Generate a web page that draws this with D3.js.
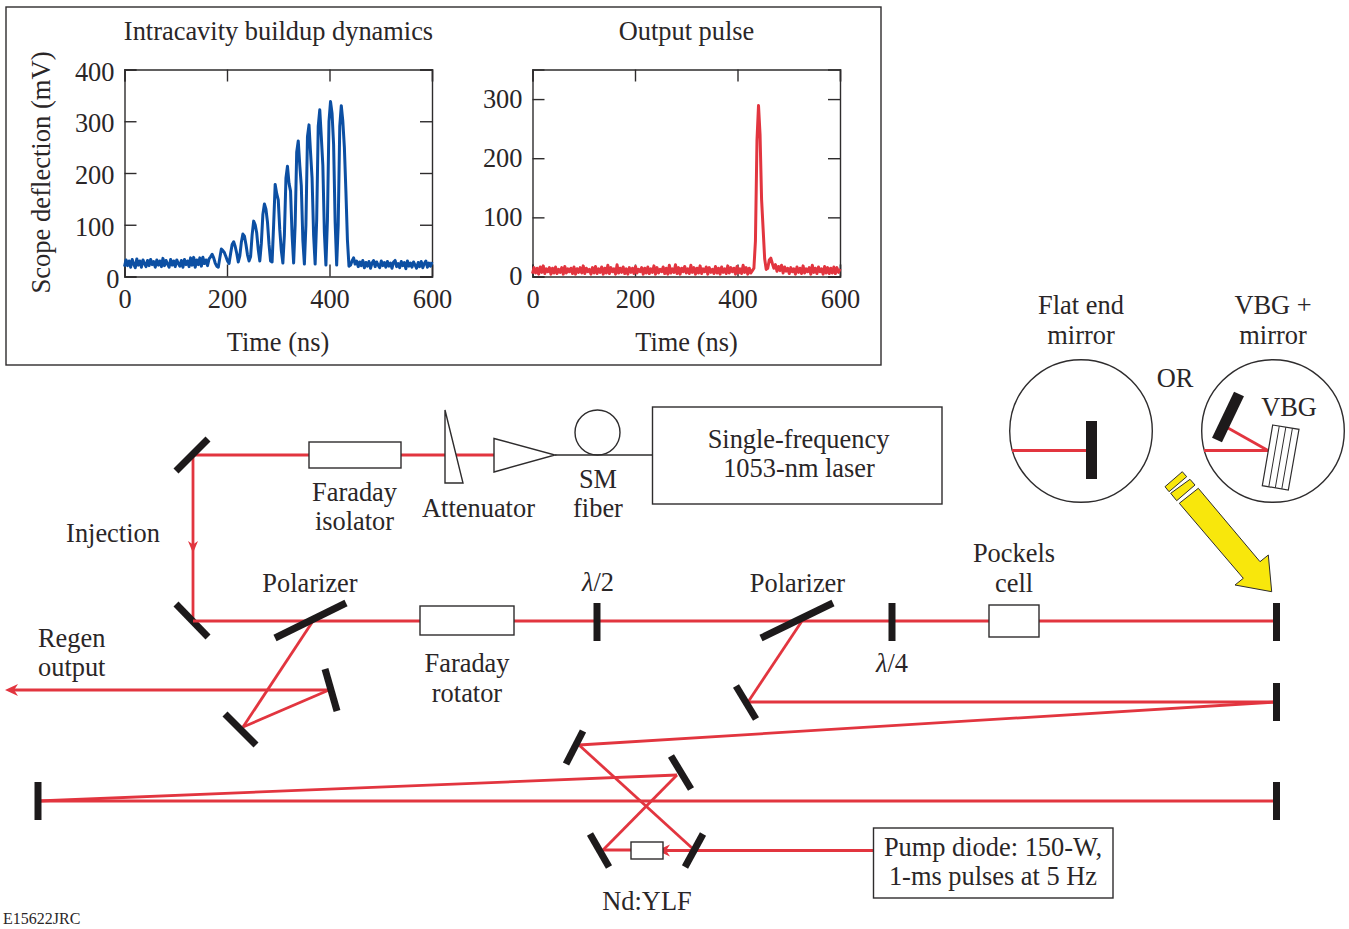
<!DOCTYPE html>
<html>
<head>
<meta charset="utf-8">
<style>
    html, body { margin: 0; padding: 0; background: #fff; }
    svg { display: block; }
</style>
<script src="https://cdn.jsdelivr.net/npm/d3@7/dist/d3.min.js"></script>
</head>
<body>
<div id="chart"></div>
<script>
'use strict';

const leftTitle = 'Intracavity buildup dynamics';
const rightTitle = 'Output pulse';
const xTitle = 'Time (ns)';
const yTitle = 'Scope deflection (mV)';

const xTicks = [0, 200, 400, 600];
const leftYTicks = [0, 100, 200, 300, 400];
const rightYTicks = [0, 100, 200, 300];
const leftYMax = 400;
const rightYMax = 350;
const timeMax = 600;
// one sample every 3 ns
const sampleStep = 3;

const buildupTrace = [
    19, 32, 21, 30, 18, 33, 24, 17, 34, 22, 30, 18, 32, 25, 19, 31, 21, 33, 23, 29,
    18, 32, 22, 30, 19, 35, 21, 31, 24, 18, 33, 22, 30, 19, 32, 25, 20, 31, 18, 33,
    23, 30, 19, 36, 22, 37, 18, 32, 23, 36,
    20, 37, 25, 32, 21, 34, 38, 43, 36, 26, 20, 18, 36, 53, 50, 46, 38, 30, 25, 44,
    62, 67, 58, 45,
    28, 40, 66, 82, 78, 62, 42, 30,
    38, 80, 107, 100, 84, 52, 30,
    64, 120, 140, 130, 105, 62, 30,
    28, 100, 178, 160, 148, 90, 50, 26,
    80, 190, 213, 180, 165, 80, 26,
    100, 240, 262, 215, 175, 70, 24,
    100, 270, 293, 240, 190, 80, 24,
    110, 290, 322, 270, 215, 85, 22,
    110, 300, 338, 315, 255, 105, 22,
    100, 290, 330, 300, 250, 165, 70, 20,
    22, 30, 36, 24,
    30, 19, 28, 21, 31, 17, 27, 20, 29, 16, 26, 31, 19, 28, 22, 17, 30, 21, 27, 18,
    29, 20, 26, 16, 28, 31, 19, 25, 17, 29, 21, 27, 15, 30, 20, 26, 18, 28, 22, 16,
    27, 19, 29, 17, 25, 30, 18, 26, 20, 28
];

const pulseTrace = [
    5, 15, 6, 14, 4, 16, 7, 18, 5, 13, 8, 15,
    4, 14, 6, 16, 5, 12, 7, 15, 4, 17, 6, 13,
    8, 14, 5, 16, 4, 13, 7, 15, 6, 18, 5, 14,
    8, 12, 4, 15, 6, 17, 5, 13, 7, 16, 4, 14,
    6, 19, 5, 15, 8, 13, 4, 20, 6, 14, 7, 16,
    5, 13, 4, 15, 7, 14, 5, 17, 6, 12, 8, 15,
    4, 14, 6, 16, 5, 13, 7, 18, 4, 15, 6, 12,
    8, 16, 5, 14, 4, 19, 6, 13, 7, 20, 5, 15,
    4, 14, 8, 17, 6, 13, 5, 19, 7, 15, 4, 14,
    6, 18, 5, 13, 8, 16, 4, 15, 7, 12, 5, 17,
    6, 14, 4, 16, 7, 13, 5, 18, 6, 15, 8, 14,
    4, 17, 6, 13, 5, 19, 7, 15, 4, 14, 6, 10,
    14, 60, 230, 289, 240, 130, 80, 30, 12, 14, 28, 31,
    22, 14, 20, 9, 17, 10, 19, 6, 16, 9, 14, 5, 15, 8,
    13, 4, 16, 7, 14, 5, 18, 6, 13, 8, 15, 4, 19, 7,
    14, 5, 16, 8, 13, 4, 17, 6, 15, 5, 14, 6, 16, 5, 15, 7, 13
];

const width = 1349;
const height = 929;
const serif = '"Liberation Serif", "Times New Roman", serif';
const textColor = '#2a2627';
const inkColor = '#2e2c2d';
const mirrorColor = '#1d1a1b';
const beamColor = '#e2353f';
const blueColor = '#0c4fa3';
const yellowColor = '#f8e70c';
const fontSize = 26.4;

var svg = d3.select('#chart').append('svg')
    .attr('width', width)
    .attr('height', height)
    .attr('viewBox', '0 0 ' + width + ' ' + height);

// frame round the two scope plots
createRect(6, 7, 875, 358, 1.4);

drawPlot(124.5, buildupTrace, leftYMax, leftYTicks, blueColor, '0.4em', 5);
drawPlot(532.5, pulseTrace, rightYMax, rightYTicks, beamColor, '0.32em', 0);

createText(leftTitle, 278.5, 40);
createText(rightTitle, 686.5, 40);
createText(xTitle, 278, 350.5);
createText(xTitle, 686.5, 350.5);
createText(yTitle, 50, 172.5).attr('transform', 'rotate(-90 50 172.5)').attr('font-size', 26.6);

function drawPlot(left, values, yMax, yTicks, color, labelDy, zeroShift) {
    const plotWidth = 307.5;
    const top = 69.5;
    const bottom = 276.5;

    var x = d3.scaleLinear().domain([0, timeMax]).range([left, left + plotWidth]);
    var y = d3.scaleLinear().domain([0, yMax]).range([bottom, top]);
    var plot = svg.append('g');

    // ticks point inwards on all four sides
    var leftAxis = styleAxis(plot.append('g').attr('transform', 'translate(' + left + ',0)')
        .call(d3.axisLeft(y).tickValues(yTicks).tickSize(-12).tickPadding(10)));
    styleAxis(plot.append('g').attr('transform', 'translate(' + (left + plotWidth) + ',0)')
        .call(d3.axisRight(y).tickValues(yTicks).tickSize(-12).tickFormat('')));
    styleAxis(plot.append('g').attr('transform', 'translate(0,' + top + ')')
        .call(d3.axisTop(x).tickValues(xTicks).tickSize(-12).tickFormat('')));
    styleAxis(plot.append('g').attr('transform', 'translate(0,' + bottom + ')')
        .call(d3.axisBottom(x).tickValues(xTicks).tickSize(-12).tickPadding(13)));

    leftAxis.selectAll('text').attr('dy', labelDy);
    leftAxis.selectAll('text').filter(function (d) { return d === 0; }).attr('dx', zeroShift);

    var line = d3.line()
        .x(function (d, i) { return x(i * sampleStep); })
        .y(function (d) { return y(d); });

    // trace goes over the bottom ticks
    plot.append('path')
        .attr('d', line(values))
        .attr('fill', 'none')
        .attr('stroke', color)
        .attr('stroke-width', 3)
        .attr('stroke-linejoin', 'round');
}

function styleAxis(axis) {
    axis.attr('font-family', serif).attr('font-size', fontSize);
    axis.selectAll('path, line').attr('stroke', inkColor).attr('stroke-width', 1.4);
    axis.selectAll('text').attr('fill', textColor);
    return axis;
}

// ---- optical layout below the plots ----

// injection path
createBeam(193, 455, 494, 455);
createBeam(193, 455, 193, 621);
createArrow(193, 553, 90, 12, 5);
createMirror(176, 471, 208, 439);
createMirror(176, 604, 208, 637);

// main cavity line and folds
createBeam(193, 621, 1276, 621);
createBeam(313, 621, 243, 727);
createBeam(243, 727, 329, 690);
createBeam(329, 690, 10, 690);
createArrow(5, 690, 180, 13, 6);
createBeam(802, 621, 748, 702);
createBeam(748, 702, 1276, 702);
createBeam(1276, 702, 579, 745);
createBeam(579, 745, 692, 848);
createBeam(603, 850, 677, 775);
createBeam(677, 775, 38, 801);
createBeam(38, 801, 1276, 801);
createBeam(603, 850, 660, 850);
createBeam(660, 850.5, 873, 850.5, 3.2);
createArrow(657, 850.5, 180, 13, 6);

createMirror(275, 638, 346, 603);
createMirror(225, 714, 256, 745);
createMirror(325, 669, 337, 711);
createMirror(597, 603, 597, 641);
createMirror(761, 638, 833, 603);
createMirror(736, 686, 756, 719);
createMirror(892, 603, 892, 641);
createMirror(1276.5, 603, 1276.5, 641);
createMirror(1276.5, 683, 1276.5, 721);
createMirror(583, 731, 566, 764);
createMirror(671, 756, 691, 789);
createMirror(590, 834, 609, 867);
createMirror(703, 834, 685, 867);
createMirror(38, 782, 38, 820);
createMirror(1276.5, 782, 1276.5, 820);

// boxes sit on top of the beam
createRect(309, 442, 92, 26);
createPolygon([[445, 410], [445, 483], [463, 483]], '#fff');
createPolygon([[494, 438.5], [494, 472], [555, 455]], '#fff');
svg.append('circle').attr('cx', 597.5).attr('cy', 432.5).attr('r', 22.5)
    .attr('fill', 'none').attr('stroke', inkColor).attr('stroke-width', 1.4);
createLine(555, 455, 652, 455, inkColor, 1.4);
createRect(652.5, 407, 289.5, 97);
createRect(420, 606, 94, 29);
createRect(989, 605, 50, 32);
createRect(631, 842, 32, 17);
createRect(873.5, 828, 239.5, 70);

// end mirror options in the circles
svg.append('circle').attr('cx', 1081).attr('cy', 431).attr('r', 71.3)
    .attr('fill', 'none').attr('stroke', inkColor).attr('stroke-width', 1.4);
svg.append('circle').attr('cx', 1273).attr('cy', 431).attr('r', 71.3)
    .attr('fill', 'none').attr('stroke', inkColor).attr('stroke-width', 1.4);
createBeam(1012, 450.5, 1087, 450.5);
createMirror(1091.5, 421, 1091.5, 479, 11);
createBeam(1204, 450.5, 1268, 450.5);
createBeam(1268, 450.5, 1228, 428);
createMirror(1239, 394, 1217, 440, 11);
createVbg([1272.7, 425], [1299, 429.3], [1288.3, 490], [1262.3, 485.7], 4);

// yellow arrow to the end mirror
createPolygon([[1271.7, 591.7], [1268.3, 555], [1260, 561.7], [1198.3, 488.3],
    [1179.3, 503.3], [1243.3, 578.3], [1235, 585]], yellowColor, 1);
createPolygon([[1190, 479.3], [1195, 485], [1176.7, 500.7], [1170.7, 493.3]], yellowColor, 1);
createPolygon([[1182.3, 471.7], [1186.7, 476.7], [1169, 491.7], [1165, 486.7]], yellowColor, 1);

// labels
createText('Faraday', 354.5, 500.5);
createText('isolator', 354.5, 529.5);
createText('Attenuator', 478.5, 517);
createText('SM', 598, 488);
createText('fiber', 598, 517);
createText('Single-frequency', 798.5, 448);
createText('1053-nm laser', 799, 477);
createText('Flat end', 1081, 314);
createText('mirror', 1081, 344);
createText('VBG +', 1273, 314);
createText('mirror', 1273, 344);
createText('OR', 1175, 387);
createText('VBG', 1289, 416);
createText('Injection', 113, 542);
createText('Polarizer', 310, 592);
createText('Polarizer', 797.5, 592);
createText('Pockels', 1014, 562);
createText('cell', 1014, 592);
createText('Regen', 38, 646.5).attr('text-anchor', 'start');
createText('output', 38, 676).attr('text-anchor', 'start');
createText('Faraday', 467, 672);
createText('rotator', 467, 702);
createText('Nd:YLF', 647, 910);
createText('Pump diode: 150-W,', 993, 855.5);
createText('1-ms pulses at 5 Hz', 993, 885);
createWave('/2', 598, 591);
createWave('/4', 892, 672);
createText('E15622JRC', 3, 923.5).attr('text-anchor', 'start').attr('font-size', 16);

function createLine(x1, y1, x2, y2, color, strokeWidth) {
    return svg.append('line')
        .attr('x1', x1).attr('y1', y1)
        .attr('x2', x2).attr('y2', y2)
        .attr('stroke', color)
        .attr('stroke-width', strokeWidth);
}

function createBeam(x1, y1, x2, y2, strokeWidth) {
    return createLine(x1, y1, x2, y2, beamColor, strokeWidth || 2.8);
}

function createMirror(x1, y1, x2, y2, strokeWidth) {
    return createLine(x1, y1, x2, y2, mirrorColor, strokeWidth || 7);
}

function createRect(x, y, w, h, strokeWidth) {
    return svg.append('rect')
        .attr('x', x).attr('y', y)
        .attr('width', w).attr('height', h)
        .attr('fill', strokeWidth ? 'none' : '#fff')
        .attr('stroke', inkColor)
        .attr('stroke-width', strokeWidth || 1.4);
}

function createPolygon(points, fill, strokeWidth) {
    return svg.append('polygon')
        .attr('points', points.join(' '))
        .attr('fill', fill)
        .attr('stroke', inkColor)
        .attr('stroke-width', strokeWidth || 1.4);
}

function createArrow(tipX, tipY, angle, length, halfWidth) {
    // tip sits on the point, the back is cut in like a swallow tail
    return svg.append('path')
        .attr('d', 'M0,0L' + (-length) + ',' + (-halfWidth) + 'L' + (-length * 0.7) + ',0L' + (-length) + ',' + halfWidth + 'Z')
        .attr('transform', 'translate(' + tipX + ',' + tipY + ') rotate(' + angle + ')')
        .attr('fill', beamColor);
}

function createVbg(a, b, c, d, strips) {
    createPolygon([a, b, c, d], '#fff', 1.2);
    for (var i = 1; i < strips; i++) {
        var top = d3.interpolate(a, b)(i / strips);
        var bottom = d3.interpolate(d, c)(i / strips);
        createLine(top[0], top[1], bottom[0], bottom[1], inkColor, 1);
    }
}

function createWave(rest, x, y) {
    var label = createText('', x, y);
    label.append('tspan').attr('font-style', 'italic').text('\u03BB');
    label.append('tspan').text(rest);
    return label;
}

function createText(str, x, y) {
    return svg.append('text')
        .attr('x', x).attr('y', y)
        .attr('text-anchor', 'middle')
        .attr('font-family', serif)
        .attr('font-size', fontSize)
        .attr('fill', textColor)
        .text(str);
}
</script>
</body>
</html>
